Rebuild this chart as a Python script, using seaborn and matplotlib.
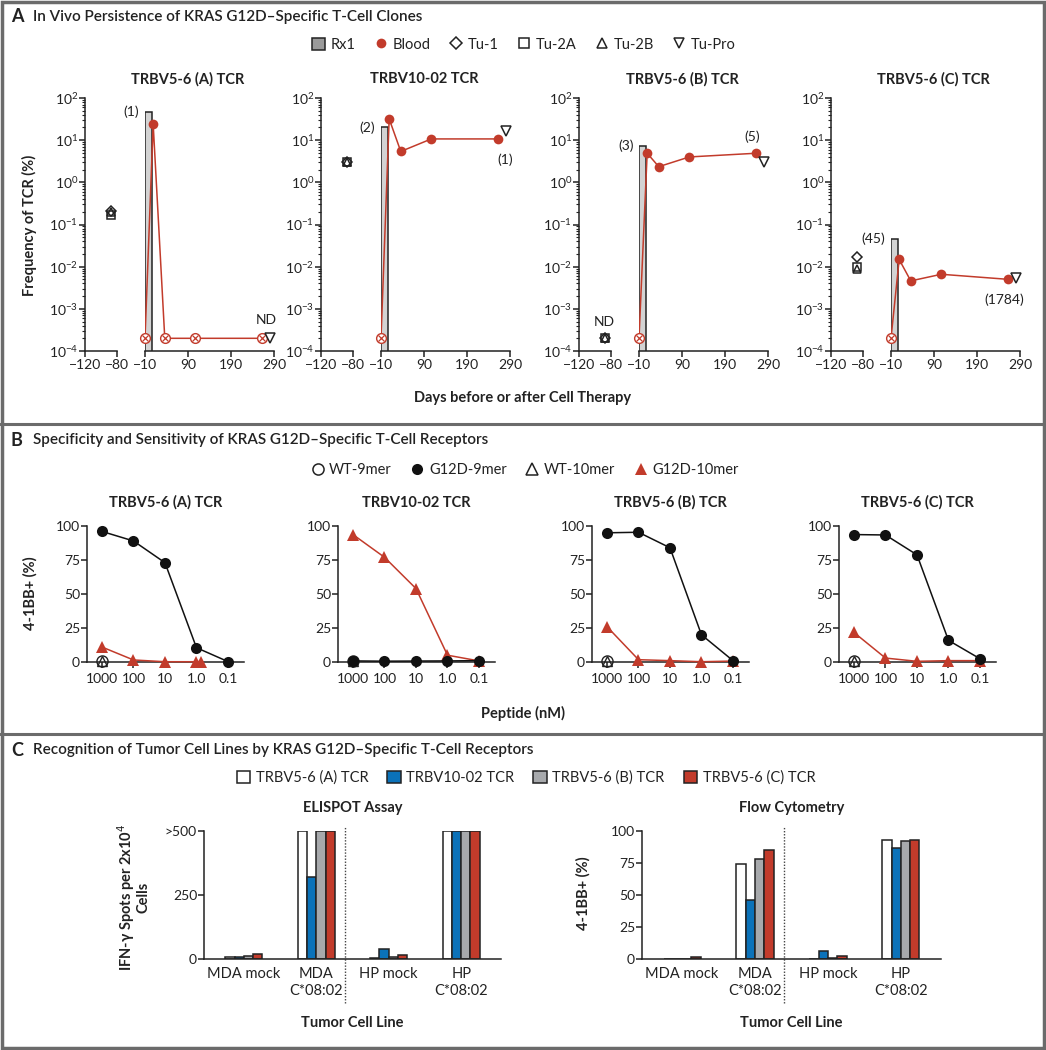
import numpy as np
import pandas as pd
import matplotlib
matplotlib.use('Agg')
from matplotlib import pyplot as plt
from matplotlib.lines import Line2D
from matplotlib.patches import Patch, Rectangle
import seaborn as sns

sns.set_theme(style='ticks')
plt.rcParams['font.family'] = ['Lato', 'DejaVu Sans']
plt.rcParams['axes.linewidth'] = 1.1
plt.rcParams['xtick.major.width'] = 1.1
plt.rcParams['ytick.major.width'] = 1.1
plt.rcParams['ytick.minor.width'] = 0.8
plt.rcParams['xtick.major.size'] = 4
plt.rcParams['ytick.major.size'] = 4
plt.rcParams['ytick.minor.size'] = 2.5
plt.rcParams['xtick.labelsize'] = 10
plt.rcParams['ytick.labelsize'] = 10
plt.rcParams['axes.edgecolor'] = '#222222'
plt.rcParams['text.color'] = '#222222'
plt.rcParams['xtick.color'] = '#222222'
plt.rcParams['ytick.color'] = '#222222'

RED = '#c23b2b'
BLUE = '#0b72b9'
GREY = '#a7a9ac'
RX_GREY = '#d3d3d3'

# ---------- A: in vivo persistence ----------
tcrs = ['TRBV5-6 (A) TCR', 'TRBV10-02 TCR', 'TRBV5-6 (B) TCR', 'TRBV5-6 (C) TCR']
blood_days = [-10, 9, 36, 107, 263]
blood_A = [np.nan, 24, np.nan, np.nan, np.nan]
blood_10 = [np.nan, 32, 5.4, 10.7, 10.7]
blood_B = [np.nan, 4.9, 2.35, 4.0, 4.9]
blood_C = [np.nan, 0.0148, 0.0046, 0.0066, 0.005]
rx1_day = -2
rx1_freq = [46, 20, 7.4, 0.045]
rx1_clones = ['(1)', '(2)', '(3)', '(45)']
last_blood_clones = ['', '(1)', '(5)', '(1784)']
tu_day = -88
tu1 = [0.21, 3.0, np.nan, 0.017]
tu2a = [0.17, 3.0, np.nan, 0.010]
tu2b = [0.20, 3.0, np.nan, 0.0088]
tupro_day = 281
tupro = [np.nan, 16.6, 3.1, 0.0054]
ND = 2e-4  # level where not-detected samples are drawn

# ---------- B: specificity / sensitivity ----------
conc = [1000, 100, 10, 1.0, 0.1]
conc_labels = ['1000', '100', '10', '1.0', '0.1']
g9_A = [96, 89, 73, 10.5, 0.3]
g9_10 = [0.8, 0.6, 0.7, 0.8, 1.0]
g9_B = [95, 95.4, 84, 20, 1.0]
g9_C = [93.7, 93.4, 78.8, 15.9, 2.4]
g10_A = [11, 1.5, 0.2, 0.2, 0.2]
g10_conc_A = [1000, 100, 10, 1.0, 0.7]
g10_10 = [93.7, 77, 54, 5, 0.8]
g10_B = [26, 1.7, 1.0, 0.2, 0.7]
g10_C = [21.7, 2.9, 0.5, 1.0, 1.0]
wt9 = [0.5, 0.5, 0.5, 0.5]
wt10 = [0.5, 0.5, 0.5, 0.5]

# ---------- C: tumour cell lines ----------
cell_lines = ['MDA mock', 'MDA\nC*08:02', 'HP mock', 'HP\nC*08:02']
elispot_A = [6, 500, 5, 500]
elispot_10 = [7, 320, 38, 500]
elispot_B = [13, 500, 7, 500]
elispot_C = [18, 500, 14, 500]
flow_A = [0.3, 74, 0.3, 93]
flow_10 = [0.3, 46, 6.5, 87]
flow_B = [0.3, 78, 0.8, 92.5]
flow_C = [1.5, 85, 2.0, 93]

W, H = 1046, 1050
fig = plt.figure(figsize=(W / 100, H / 100), dpi=100)


def px_axes(x0, y0, x1, y1):
    return fig.add_axes([x0 / W, 1 - y1 / H, (x1 - x0) / W, (y1 - y0) / H])


def ftext(x, y, s, **kw):
    return fig.text(x / W, 1 - y / H, s, **kw)


# frame and separators
fig.add_artist(Rectangle((0.0015, 0.0015), 0.997, 0.997, transform=fig.transFigure,
                         fill=False, edgecolor='#6b6b6b', linewidth=2.5))
for yy in [424, 734]:
    fig.add_artist(Line2D([0, 1], [1 - yy / H, 1 - yy / H], transform=fig.transFigure,
                          color='#6b6b6b', linewidth=2.2))

# panel headings
for y, letter, title in [(17, 'A', 'In Vivo Persistence of KRAS G12D\u2013Specific T-Cell Clones'),
                         (440, 'B', 'Specificity and Sensitivity of KRAS G12D\u2013Specific T-Cell Receptors'),
                         (750, 'C', 'Recognition of Tumor Cell Lines by KRAS G12D\u2013Specific T-Cell Receptors')]:
    ftext(11, y, letter, fontsize=13, fontweight='bold', va='center')
    ftext(33, y, title, fontsize=11, fontweight='semibold', va='center')

# ---------------- A ----------------
blood_all = [blood_A, blood_10, blood_B, blood_C]
a_left = [85, 321, 579, 831]
a_title_x = [188, 424, 682, 933]
for i, name in enumerate(tcrs):
    x0 = a_left[i]
    axl = px_axes(x0, 98, x0 + 32, 351)
    axr = px_axes(x0 + 60, 98, x0 + 189, 351)
    for ax in (axl, axr):
        ax.set_yscale('log')
        ax.set_ylim(1e-4, 1e2)
    axl.set_xlim(-120, -80)
    axr.set_xlim(-10, 290)
    axl.set_xticks([-120, -80])
    axr.set_xticks([-10, 90, 190, 290])
    sns.despine(ax=axl)
    sns.despine(ax=axr, left=True)
    axr.tick_params(axis='y', which='both', left=False, labelleft=False)
    axl.tick_params(axis='x', pad=2)
    axr.tick_params(axis='x', pad=2)
    axl.tick_params(axis='y', pad=1)
    ftext(a_title_x[i], 79, name, fontsize=10.5, fontweight='bold', ha='center', va='center')

    # Rx1 infusion bar
    axr.bar(rx1_day, rx1_freq[i], width=16, color=RX_GREY, edgecolor='#222222',
            linewidth=1.1, zorder=2)
    axr.annotate(rx1_clones[i], (-10, rx1_freq[i]), xytext=(-4, 0), textcoords='offset points',
                 ha='right', va='center', fontsize=10, annotation_clip=False)

    # blood
    b = np.array(blood_all[i], dtype=float)
    nd = np.isnan(b)
    bplot = np.where(nd, ND, b)
    days = np.array(blood_days)
    sns.lineplot(x=days, y=bplot, color=RED, linewidth=1.1, ax=axr, zorder=3)
    axr.plot(days[~nd], b[~nd], 'o', color=RED, ms=7, mew=0, zorder=4, clip_on=False)
    axr.plot(days[nd], bplot[nd], 'o', mfc='white', mec=RED, ms=7, mew=1, zorder=4, clip_on=False)
    axr.plot(days[nd], bplot[nd], 'x', color=RED, ms=4, mew=0.9, zorder=5, clip_on=False)
    if last_blood_clones[i]:
        dy = 12 if i == 2 else -15
        axr.annotate(last_blood_clones[i], (days[-1], b[-1]), xytext=(5 if i == 1 else -3, dy),
                     textcoords='offset points', ha='center', va='center', fontsize=10,
                     annotation_clip=False)

    # tumour samples
    for vals, m, ms in [(tu2a, 's', 6), (tu2b, '^', 6), (tu1, 'D', 5)]:
        v = vals[i]
        axl.plot(tu_day, ND if np.isnan(v) else v, m, mfc='none', mec='#222222', ms=ms,
                 mew=1.1, zorder=4, clip_on=False)
    if np.isnan(tu1[i]):
        axl.annotate('ND', (tu_day, ND), xytext=(0, 12), textcoords='offset points',
                     ha='center', va='center', fontsize=10)
    v = tupro[i]
    axr.plot(tupro_day, ND if np.isnan(v) else v, 'v', mfc='white', mec='#222222', ms=7,
             mew=1.1, zorder=5, clip_on=False)
    if np.isnan(v):
        axr.annotate('ND', (tupro_day, ND), xytext=(-3, 13), textcoords='offset points',
                     ha='center', va='center', fontsize=10)

ftext(29, 225, 'Frequency of TCR (%)', fontsize=10.5, fontweight='bold', rotation=90,
      ha='center', va='center')
ftext(523, 398, 'Days before or after Cell Therapy', fontsize=10.5, fontweight='bold',
      ha='center', va='center')

a_handles = [Patch(facecolor='#9a9a9a', edgecolor='#222222', linewidth=1.1),
             Line2D([], [], ls='', marker='o', color=RED, ms=7, mew=0),
             Line2D([], [], ls='', marker='D', mfc='white', mec='#222222', ms=6, mew=1.1),
             Line2D([], [], ls='', marker='s', mfc='white', mec='#222222', ms=7, mew=1.1),
             Line2D([], [], ls='', marker='^', mfc='white', mec='#222222', ms=7, mew=1.1),
             Line2D([], [], ls='', marker='v', mfc='white', mec='#222222', ms=7, mew=1.1)]
fig.legend(a_handles, ['Rx1', 'Blood', 'Tu-1', 'Tu-2A', 'Tu-2B', 'Tu-Pro'], loc='center',
           bbox_to_anchor=(524 / W, 1 - 45 / H), ncol=6, frameon=False, fontsize=10.5,
           handlelength=0.9, handleheight=0.9, handletextpad=0.35, columnspacing=1.3)

# ---------------- B ----------------
g9_all = [g9_A, g9_10, g9_B, g9_C]
g10_all = [g10_A, g10_10, g10_B, g10_C]
g10_conc_all = [g10_conc_A, conc, conc, conc]
b_left = [87, 338, 592, 839]
for i, name in enumerate(tcrs):
    x0 = b_left[i]
    ax = px_axes(x0, 526, x0 + 157, 662)
    ax.set_xscale('log')
    ax.set_xlim(2990, 0.031)
    ax.set_ylim(0, 100)
    sns.lineplot(x=g10_conc_all[i], y=g10_all[i], color=RED, linewidth=1.1, marker='^',
                 markersize=8, markeredgewidth=0, ax=ax, zorder=3, clip_on=False)
    sns.lineplot(x=conc, y=g9_all[i], color='#111111', linewidth=1.1, marker='o',
                 markersize=8, markeredgewidth=0, ax=ax, zorder=4, clip_on=False)
    ax.plot(conc[0], wt9[i], 'o', mfc='none', mec='#222222', ms=8, mew=1, zorder=2, clip_on=False)
    ax.plot(conc[0], wt10[i], '^', mfc='none', mec='#222222', ms=7, mew=1, zorder=2, clip_on=False)
    ax.set_xticks(conc)
    ax.set_xticklabels(conc_labels)
    ax.xaxis.set_minor_locator(matplotlib.ticker.NullLocator())
    ax.set_yticks([0, 25, 50, 75, 100])
    ax.tick_params(axis='x', pad=4)
    ax.tick_params(axis='y', pad=1)
    sns.despine(ax=ax)
    ax.set_xlabel('')
    ax.set_ylabel('')
    ax.set_title(name, fontsize=10.5, fontweight='bold', pad=14)

ftext(30, 593, '4-1BB+ (%)', fontsize=10.5, fontweight='bold', rotation=90,
      ha='center', va='center')
ftext(523, 713, 'Peptide (nM)', fontsize=10.5, fontweight='bold', ha='center', va='center')

b_handles = [Line2D([], [], ls='', marker='o', mfc='white', mec='#222222', ms=8, mew=1.1),
             Line2D([], [], ls='', marker='o', color='#111111', ms=8, mew=0),
             Line2D([], [], ls='', marker='^', mfc='white', mec='#222222', ms=8, mew=1.1),
             Line2D([], [], ls='', marker='^', color=RED, ms=8, mew=0)]
fig.legend(b_handles, ['WT-9mer', 'G12D-9mer', 'WT-10mer', 'G12D-10mer'], loc='center',
           bbox_to_anchor=(525 / W, 1 - 470 / H), ncol=4, frameon=False, fontsize=10.5,
           handlelength=0.9, handletextpad=0.35, columnspacing=1.3)

# ---------------- C ----------------
palette = ['white', BLUE, GREY, RED]
df_elispot = pd.DataFrame({'line': np.tile(cell_lines, 4), 'tcr': np.repeat(tcrs, 4),
                           'value': elispot_A + elispot_10 + elispot_B + elispot_C})
df_flow = pd.DataFrame({'line': np.tile(cell_lines, 4), 'tcr': np.repeat(tcrs, 4),
                        'value': flow_A + flow_10 + flow_B + flow_C})

for df, (x0, x1), title, ymax, ticks, tlabels in [
        (df_elispot, (204, 501), 'ELISPOT Assay', 500, [0, 250, 500], ['0', '250', '>500']),
        (df_flow, (642, 941), 'Flow Cytometry', 100, [0, 25, 50, 75, 100], None)]:
    ax = px_axes(x0, 831, x1, 959)
    sns.barplot(data=df, x='line', y='value', hue='tcr', palette=palette, hue_order=tcrs,
                order=cell_lines, width=0.51, gap=0, saturation=1, edgecolor='#222222',
                linewidth=1.1, legend=False, ax=ax)
    ax.set_xlim(-0.55, 3.55)
    ax.set_ylim(0, ymax)
    ax.set_yticks(ticks)
    if tlabels:
        ax.set_yticklabels(tlabels)
    ax.tick_params(axis='x', length=0, pad=6, labelsize=10.5)
    ax.tick_params(axis='y', pad=1)
    ax.axvline(1.4, ymin=-0.34, ymax=1.04, clip_on=False, color='#444444', ls=(0, (1, 1.2)),
               linewidth=1)
    sns.despine(ax=ax)
    ax.set_xlabel('')
    ax.set_ylabel('')
    ax.set_title(title, fontsize=10.5, fontweight='bold', pad=14)
    ftext((x0 + x1) / 2, 1023, 'Tumor Cell Line', fontsize=10.5, fontweight='bold',
          ha='center', va='center')

ftext(133, 897, 'IFN-\u03b3 Spots per 2x10$^4$\nCells', fontsize=10.5, fontweight='bold',
      rotation=90, ha='center', va='center', linespacing=1.0)
ftext(583, 893, '4-1BB+ (%)', fontsize=10.5, fontweight='bold', rotation=90,
      ha='center', va='center')

c_handles = [Patch(facecolor=c, edgecolor='#222222', linewidth=1.1) for c in palette]
fig.legend(c_handles, tcrs, loc='center', bbox_to_anchor=(526 / W, 1 - 778 / H), ncol=4,
           frameon=False, fontsize=10.5, handlelength=0.9, handleheight=0.9,
           handletextpad=0.4, columnspacing=1.3)

fig.savefig('out.png', dpi=100)
